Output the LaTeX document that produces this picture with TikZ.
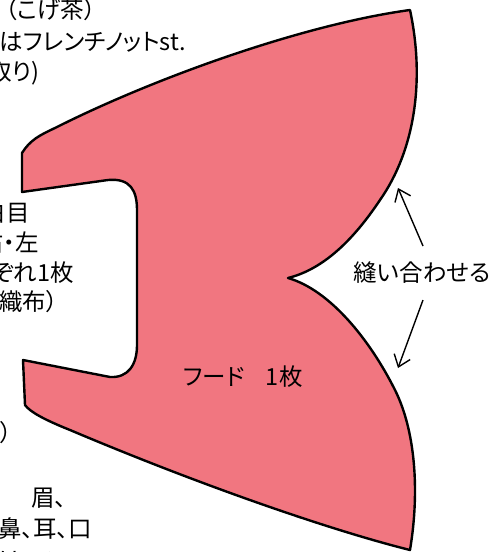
\documentclass[tikz,border=0pt]{standalone}
\usepackage{fontspec}
\newfontfamily\jp[RawFeature=+palt]{Noto Sans CJK JP}
\usetikzlibrary{arrows.meta}
\definecolor{hood}{RGB}{241,118,128}
\begin{document}
\begin{tikzpicture}[x=1pt,y=-1pt,
  lbl/.style={font=\jp\fontsize{23.5}{28}\selectfont, inner sep=0pt},
  outline/.style={draw=black, line width=2.4pt, fill=hood, line join=round},
  sewarrow/.style={draw=black, line width=1.4pt, -{Straight Barb[length=11pt,width=17pt]}}]
\path[use as bounding box] (0,0) rectangle (494,552);
% hood piece
\path[outline]
  (22,153) .. controls (30,140) and (40,135) .. (55,128)
  .. controls (150,80) and (300,25) .. (410,10)
  .. controls (425,80) and (415,150) .. (380,200)
  .. controls (350,245) and (320,270) .. (288,278)
  .. controls (330,290) and (370,340) .. (395,390)
  .. controls (415,430) and (420,490) .. (410,550)
  .. controls (330,530) and (200,485) .. (70,430)
  .. controls (45,420) and (30,412) .. (25,405)
  -- (23,360) -- (110,377)
  .. controls (128,378) and (137,365) .. (137,345)
  -- (137,210)
  .. controls (137,190) and (130,178) .. (108,180)
  -- (22,192) -- cycle;
% texts
\node[lbl, anchor=base east] (t1) at (96,18) {（こげ茶）};
\node[lbl, anchor=base east] (t2) at (186,50) {はフレンチノットst.};
\node[lbl, anchor=base east] (t3) at (40,80) {2本取り)};
\node[lbl, anchor=base east] (l1) at (30,221) {白目};
\node[lbl, anchor=base east] (l2) at (39,251) {右・左};
\node[lbl, anchor=base east] (l3) at (74,281) {それぞれ1枚};
\node[lbl, anchor=base east] (l4) at (58,310) {（不織布）};
\node[lbl, anchor=base east] (p1) at (12,441) {）};
\node[lbl, anchor=base west] (b1) at (31,506) {眉、};
\node[lbl, anchor=base west] (b2) at (-2,537) {鼻、耳、口};
\node[lbl, anchor=base west] (b3) at (-2,569) {はペン};
\node[lbl] (hoodlbl) at (243,377) {フード\hspace{0.9em}1枚};
\node[lbl] (sew) at (422,273) {縫い合わせる};
\coordinate (upseam) at (398,188);
\coordinate (downseam) at (398,368);
\coordinate (uptail) at (423,246);
\coordinate (downtail) at (423,300);
\draw[sewarrow] (uptail) -- (upseam);
\draw[sewarrow] (downtail) -- (downseam);
\end{tikzpicture}
\end{document}
